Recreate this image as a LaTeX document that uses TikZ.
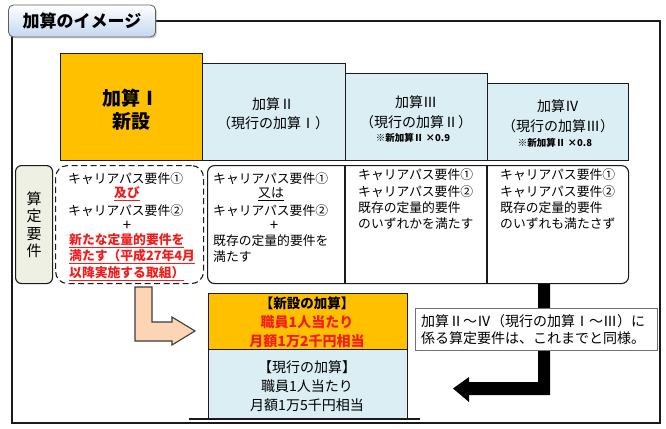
\documentclass[tikz,border=0pt]{standalone}
\usepackage{fontspec}
\setmainfont{Noto Sans CJK JP}
\usetikzlibrary{shadows}
\definecolor{kgold}{HTML}{FFC000}
\definecolor{kblue}{HTML}{DBEEF4}
\definecolor{kpeach}{HTML}{FCD5B4}
\definecolor{kred}{HTML}{F01E1E}
\definecolor{kgreen}{HTML}{EDF0E3}
\definecolor{ktab}{HTML}{C3D7F0}
\definecolor{kline}{HTML}{1A1A1A}
\begin{document}
\begin{tikzpicture}[x=1pt,y=-1pt,
  boxk/.style={draw=kline,line width=1.1pt,anchor=north west,inner sep=0pt},
  txt/.style={inner sep=0pt,font=\fontsize{12.8}{15}\selectfont},
  txtl/.style={txt,anchor=west},
  plus/.style={inner sep=0pt,font=\fontsize{15}{17}\selectfont},
  hd/.style={inner sep=0pt,font=\fontsize{14}{16}\selectfont},
  sm/.style={inner sep=0pt,font=\fontsize{9.5}{11}\selectfont\bfseries},
  big/.style={inner sep=0pt,font=\fontsize{19}{22}\selectfont\bfseries},
  redt/.style={text=kred,font=\fontsize{12.8}{15}\selectfont\bfseries},
  bt/.style={inner sep=0pt,font=\fontsize{14}{17}\selectfont}]
\useasboundingbox (0,0) rectangle (666,428);
% outer frame
\draw[line width=1.3pt,kline] (12,21) rectangle (660,423);
% title tab
\node[draw=kline!70,line width=0.8pt,rounded corners=5pt,top color=white,bottom color=ktab,
  drop shadow={shadow xshift=1.5pt,shadow yshift=-1.5pt,opacity=0.35},
  minimum width=147pt,minimum height=32pt,inner sep=0pt,
  font=\fontsize{17}{18}\selectfont\bfseries] (title) at (82,21) {加算のイメージ};
% top boxes
\node[boxk,fill=kblue,minimum width=143pt,minimum height=97pt] (k2) at (202,63) {};
\node[boxk,fill=kblue,minimum width=142pt,minimum height=87pt] (k3) at (345,73) {};
\node[boxk,fill=kblue,minimum width=141pt,minimum height=77pt] (k4) at (487,83) {};
\node[boxk,fill=kgold,minimum width=142pt,minimum height=107pt] (k1) at (60,53) {};
\node[big] (k1a) at (131,98) {加算Ⅰ};
\node[big] (k1b) at (131,121) {新設};
\node[hd] (k2a) at (273,104) {加算Ⅱ};
\node[hd] (k2b) at (273,123) {（現行の加算Ⅰ）};
\node[hd] (k3a) at (416,102) {加算Ⅲ};
\node[hd] (k3b) at (416,122) {（現行の加算Ⅱ）};
\node[sm] (k3c) at (413,137.5) {※新加算Ⅱ ×0.9};
\node[hd] (k4a) at (558,106) {加算Ⅳ};
\node[hd] (k4b) at (558,126) {（現行の加算Ⅲ）};
\node[sm] (k4c) at (555,143) {※新加算Ⅱ ×0.8};
% requirement label
\node[draw=kline,line width=1.1pt,fill=kgreen,rounded corners=6pt,anchor=north west,
  minimum width=37pt,minimum height=118pt,inner sep=0pt,align=center,
  font=\fontsize{15}{17.5}\selectfont] (req) at (15,165) {算\\定\\要\\件};
% dashed box
\node[draw=kline,line width=1.1pt,dash pattern=on 6pt off 3.5pt,rounded corners=12pt,
  anchor=north west,minimum width=148pt,minimum height=118pt,inner sep=0pt] (d1) at (55,165) {};
% solid box
\node[draw=kline,line width=1.1pt,rounded corners=7pt,anchor=north west,
  minimum width=421pt,minimum height=118pt,inner sep=0pt] (s1) at (207,165) {};
\coordinate (v1t) at (345,165); \coordinate (v1b) at (345,283);
\coordinate (v2t) at (487,165); \coordinate (v2b) at (487,283);
\draw[line width=1.1pt,kline] (v1t) -- (v1b);
\draw[line width=1.1pt,kline] (v2t) -- (v2b);
% box 1 texts
\node[txtl] (a1) at (68,179) {キャリアパス要件①};
\node[txt,redt] (a2) at (127,194) {\underline{及び}};
\node[txtl] (a3) at (68,211) {キャリアパス要件②};
\node[plus] (a4) at (127,226) {+};
\node[txtl,redt] (a5) at (69,241) {\underline{新たな定量的要件を}};
\node[txtl,redt] (a6) at (69,257) {\underline{満たす（平成27年4月}};
\node[txtl,redt] (a7) at (69,274) {\underline{以降実施する取組）}};
% box 2 texts
\node[txtl] (b1) at (213,179) {キャリアパス要件①};
\node[txt] (b2) at (271,194) {\underline{又は}};
\node[txtl] (b3) at (213,211) {キャリアパス要件②};
\node[plus] (b4) at (274,226) {+};
\node[txtl] (b5) at (213,241) {既存の定量的要件を};
\node[txtl] (b6) at (213,257) {満たす};
% box 3 texts
\node[txtl] (c1) at (358,175) {キャリアパス要件①};
\node[txtl] (c2) at (358,192) {キャリアパス要件②};
\node[txtl] (c3) at (358,208) {既存の定量的要件};
\node[txtl] (c4) at (358,224) {のいずれかを満たす};
% box 4 texts
\node[txtl] (e1) at (500,175) {キャリアパス要件①};
\node[txtl] (e2) at (500,192) {キャリアパス要件②};
\node[txtl] (e3) at (500,208) {既存の定量的要件};
\node[txtl] (e4) at (500,224) {のいずれも満たさず};
% peach arrow
\draw[fill=kpeach,draw=kline!85,line width=1.1pt,line join=miter]
  (135,287) -- (152,287) -- (152,322) -- (172,322) -- (172,317) -- (195,331)
  -- (172,345) -- (172,341) -- (135,341) -- cycle;
% bottom boxes
\node[boxk,fill=kgold,minimum width=199pt,minimum height=56pt] (n1) at (208,293) {};
\node[boxk,fill=kblue,minimum width=199pt,minimum height=70pt] (n2) at (208,349) {};
\node[inner sep=0pt,font=\fontsize{13.5}{16}\selectfont\bfseries] (n1a) at (307,303) {【新設の加算】};
\node[bt,text=kred,font=\fontsize{14}{17}\selectfont\bfseries] (n1b) at (307,322) {職員1人当たり};
\node[bt,text=kred,font=\fontsize{14}{17}\selectfont\bfseries] (n1c) at (307,341) {月額1万2千円相当};
\node[bt] (n2a) at (307,367) {【現行の加算】};
\node[bt] (n2b) at (307,386) {職員1人当たり};
\node[bt] (n2c) at (307,405) {月額1万5千円相当};
\coordinate (gl) at (189,419); \coordinate (gr) at (420,419);
\draw[line width=2pt,kline] (gl) -- (gr);
% black arrow
\fill[black] (538,284) -- (550,284) -- (550,395) -- (469,395) -- (469,402) -- (453,388.5)
  -- (469,377) -- (469,382) -- (538,382) -- cycle;
% note box
\node[draw=black!55,line width=0.8pt,fill=white,anchor=north west,minimum width=242pt,
  minimum height=42pt,inner sep=0pt] (nb) at (415,308) {};
\node[inner sep=0pt,anchor=west,align=left,font=\fontsize{14}{17}\selectfont] (nt) at (421,330)
  {加算Ⅱ～Ⅳ（現行の加算Ⅰ～Ⅲ）に\\係る算定要件は、これまでと同様。};
\end{tikzpicture}
\end{document}
